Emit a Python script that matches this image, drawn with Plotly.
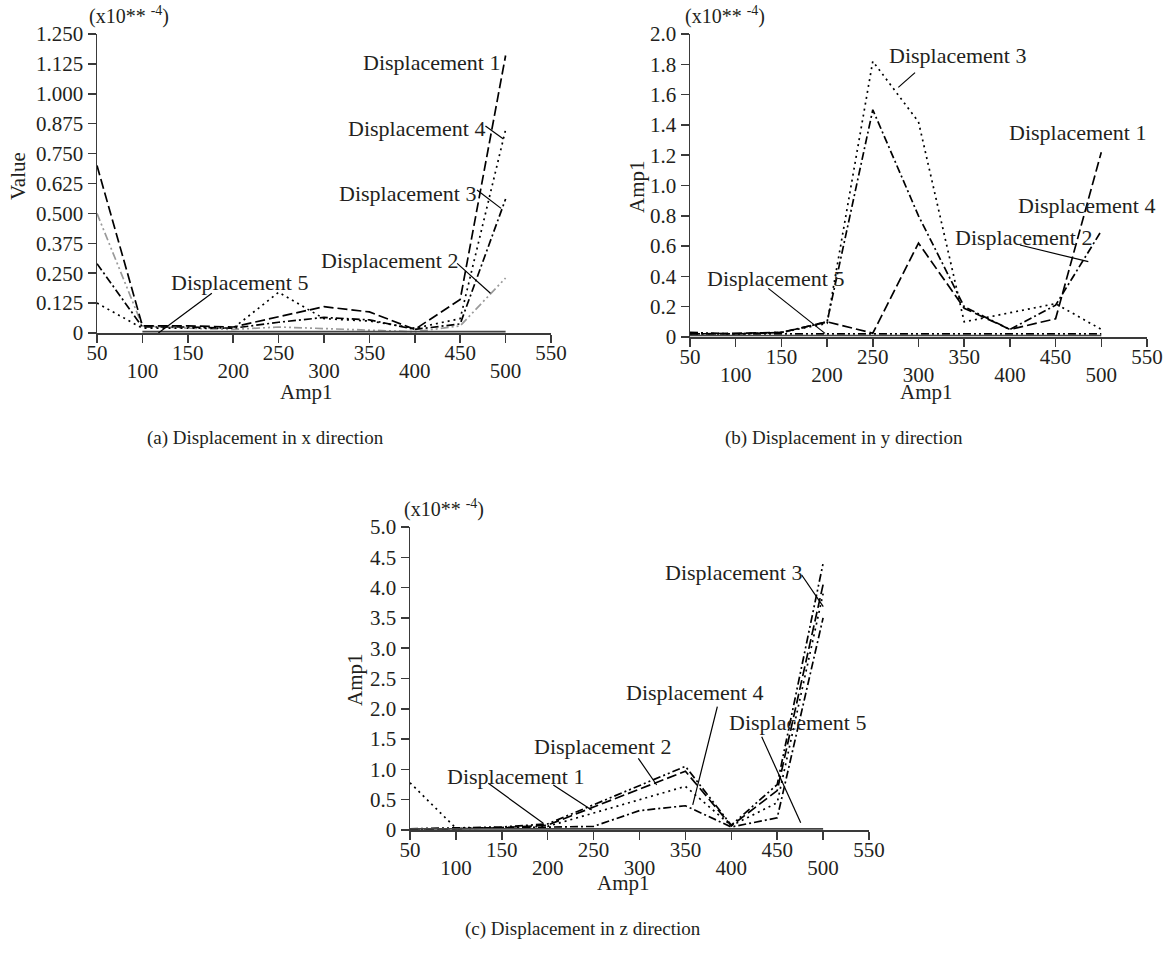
import plotly.graph_objects as go

W, H = 1169, 963
FONT = "Liberation Serif"
TXT = "#231f20"

# ---------------- data ----------------
amp = [50, 100, 150, 200, 250, 300, 350, 400, 450, 500]
amp_b5 = [100, 150, 200, 250, 300, 350, 400, 450, 500]
xtick_odd = [50, 150, 250, 350, 450, 550]
xtick_even = [100, 200, 300, 400, 500]

# (a) x direction, x10^-4
a_d1 = [0.700, 0.030, 0.030, 0.025, 0.068, 0.110, 0.088, 0.015, 0.140, 1.160]
a_d2 = [0.500, 0.030, 0.020, 0.015, 0.025, 0.020, 0.012, 0.005, 0.030, 0.230]
a_d3 = [0.290, 0.025, 0.025, 0.020, 0.045, 0.065, 0.055, 0.015, 0.038, 0.560]
a_d4 = [0.125, 0.020, 0.020, 0.020, 0.170, 0.060, 0.050, 0.020, 0.060, 0.850]
a_d5 = [0.006, 0.006, 0.006, 0.006, 0.006, 0.006, 0.006, 0.006, 0.006]
a_yticks = [0, 0.125, 0.25, 0.375, 0.5, 0.625, 0.75, 0.875, 1.0, 1.125, 1.25]
a_ytext = ["0", "0.125", "0.250", "0.375", "0.500", "0.625", "0.750", "0.875", "1.000", "1.125", "1.250"]

# (b) y direction
b_d1 = [0.020, 0.025, 0.030, 0.100, 0.025, 0.620, 0.190, 0.050, 0.120, 1.220]
b_d2 = [0.030, 0.020, 0.020, 0.020, 0.020, 0.020, 0.020, 0.020, 0.020, 0.020]
b_d3 = [0.020, 0.020, 0.030, 0.090, 1.820, 1.420, 0.100, 0.160, 0.220, 0.050]
b_d4 = [0.020, 0.020, 0.030, 0.100, 1.500, 0.800, 0.200, 0.050, 0.210, 0.700]
b_d5 = [0.010, 0.010, 0.010, 0.010, 0.010, 0.010, 0.010, 0.010, 0.010, 0.010]
b_yticks = [0, 0.2, 0.4, 0.6, 0.8, 1.0, 1.2, 1.4, 1.6, 1.8, 2.0]
b_ytext = ["0", "0.2", "0.4", "0.6", "0.8", "1.0", "1.2", "1.4", "1.6", "1.8", "2.0"]

# (c) z direction
c_d1 = [0.78, 0.03, 0.04, 0.06, 0.28, 0.50, 0.72, 0.07, 0.45, 3.90]
c_d2 = [0.02, 0.02, 0.04, 0.08, 0.38, 0.68, 0.97, 0.07, 0.65, 4.05]
c_d3 = [0.02, 0.03, 0.05, 0.10, 0.42, 0.74, 1.05, 0.08, 0.75, 4.40]
c_d4 = [0.01, 0.02, 0.03, 0.05, 0.06, 0.32, 0.40, 0.05, 0.20, 3.50]
c_d5 = [0.02, 0.02, 0.02, 0.02, 0.02, 0.02, 0.02, 0.02, 0.02, 0.02]
c_yticks = [0, 0.5, 1.0, 1.5, 2.0, 2.5, 3.0, 3.5, 4.0, 4.5, 5.0]
c_ytext = ["0", "0.5", "1.0", "1.5", "2.0", "2.5", "3.0", "3.5", "4.0", "4.5", "5.0"]

# ---------------- styles ----------------
LONG = "10px,4px"
DOT = "2px,4px"
DASHDOT = "8px,3px,2px,3px"
DDD = "8px,3px,2px,3px,2px,3px"
LW = 1.7

fig = go.Figure()

def add(x, y, xa, ya, dash, color="black", name=""):
    fig.add_trace(go.Scatter(x=x, y=y, xaxis=xa, yaxis=ya, mode="lines", name=name,
                             line=dict(color=color, width=LW, dash=dash),
                             showlegend=False, hoverinfo="skip"))

# (a)
add(amp_b5, a_d5, "x4", "y", "solid", "#444444", "Displacement 5")
add(amp, a_d2, "x", "y", DDD, "#9a9a9a", "Displacement 2")
add(amp, a_d3, "x", "y", DASHDOT, "black", "Displacement 3")
add(amp, a_d4, "x", "y", DOT, "black", "Displacement 4")
add(amp, a_d1, "x", "y", LONG, "black", "Displacement 1")
# (b)
add(amp, b_d5, "x5", "y2", "solid", "#444444", "Displacement 5")
add(amp, b_d2, "x2", "y2", DDD, "black", "Displacement 2")
add(amp, b_d4, "x2", "y2", DASHDOT, "black", "Displacement 4")
add(amp, b_d3, "x2", "y2", DOT, "black", "Displacement 3")
add(amp, b_d1, "x2", "y2", LONG, "black", "Displacement 1")
# (c)
add(amp, c_d5, "x6", "y3", "solid", "#444444", "Displacement 5")
add(amp, c_d4, "x3", "y3", DASHDOT, "black", "Displacement 4")
add(amp, c_d1, "x3", "y3", DOT, "black", "Displacement 1")
add(amp, c_d2, "x3", "y3", LONG, "black", "Displacement 2")
add(amp, c_d3, "x3", "y3", DDD, "black", "Displacement 3")

def xdom(left, right):
    return [left / W, right / W]

def ydom(top, bottom):
    return [1 - bottom / H, 1 - top / H]

TICK_SIZE = 21
tickfont = dict(family=FONT, size=TICK_SIZE, color=TXT)
AXC = "#3a3a3a"

def xmain(dom, anchor):
    return dict(domain=dom, anchor=anchor, range=[50, 550], tickmode="array",
                tickvals=xtick_odd + xtick_even,
                ticktext=[str(v) for v in xtick_odd] + [""] * len(xtick_even),
                ticks="outside", ticklen=8, tickwidth=1.5, tickcolor=AXC,
                showline=True, linecolor=AXC, linewidth=1.5, showgrid=False,
                zeroline=False, tickfont=tickfont, fixedrange=True,
                automargin=False, ticklabelstandoff=-8)

def xover(over, anchor):
    return dict(overlaying=over, anchor=anchor, range=[50, 550], tickmode="array",
                tickvals=xtick_even, ticktext=[str(v) for v in xtick_even],
                ticks="", showline=False, showgrid=False, zeroline=False,
                tickfont=tickfont, ticklabelstandoff=23, side="bottom",
                automargin=False)

def yax(dom, anchor, rng, tv, tt):
    return dict(domain=dom, anchor=anchor, range=rng, tickmode="array",
                tickvals=tv, ticktext=tt, ticks="outside", ticklen=8,
                tickwidth=1.5, tickcolor=AXC, showline=True, linecolor=AXC,
                linewidth=1.5, showgrid=False, zeroline=False, tickfont=tickfont,
                automargin=False)

fig.update_layout(
    width=W, height=H, margin=dict(l=0, r=0, t=0, b=0, pad=0, autoexpand=False),
    paper_bgcolor="white", plot_bgcolor="white",
    font=dict(family=FONT, color=TXT, size=20),
    xaxis=xmain(xdom(97, 551), "y"),
    yaxis=yax(ydom(34, 333), "x", [0, 1.25], a_yticks, a_ytext),
    xaxis2=xmain(xdom(690, 1147), "y2"),
    yaxis2=yax(ydom(34, 337), "x2", [0, 2.0], b_yticks, b_ytext),
    xaxis3=xmain(xdom(410, 869), "y3"),
    yaxis3=yax(ydom(527, 830), "x3", [0, 5.0], c_yticks, c_ytext),
    xaxis4=xover("x", "y"), xaxis5=xover("x2", "y2"), xaxis6=xover("x3", "y3"),
)

ann = []
shapes = []
LBL = 22

def label(text, x, y, xr, yr, size=LBL):
    ann.append(dict(text=text, x=x, y=y, xref=xr, yref=yr, showarrow=False,
                    font=dict(family=FONT, size=size, color=TXT),
                    xanchor="center", yanchor="middle"))

def leader(x0, y0, x1, y1, xr, yr):
    shapes.append(dict(type="line", x0=x0, y0=y0, x1=x1, y1=y1, xref=xr, yref=yr,
                       line=dict(color="black", width=1.2)))

# (a) labels
label("Displacement 1", 418.8, 1.129, "x", "y")
label("Displacement 4", 401.7, 0.857, "x", "y")
leader(477.8, 0.865, 497.6, 0.811, "x", "y")
label("Displacement 3", 392.5, 0.585, "x", "y")
leader(468.5, 0.598, 495.0, 0.521, "x", "y")
label("Displacement 2", 372.0, 0.305, "x", "y")
leader(446.6, 0.291, 483.3, 0.166, "x", "y")
label("Displacement 5", 206.6, 0.213, "x", "y")
leader(176.5, 0.166, 117.6, 0.0, "x", "y")

# (b) labels
label("Displacement 3", 342.7, 1.861, "x2", "y2")
leader(296.2, 1.745, 277.9, 1.648, "x2", "y2")
label("Displacement 1", 474.0, 1.353, "x2", "y2")
label("Displacement 4", 483.3, 0.871, "x2", "y2")
label("Displacement 2", 415.4, 0.660, "x2", "y2")
leader(411.0, 0.607, 485.8, 0.497, "x2", "y2")
label("Displacement 5", 143.5, 0.389, "x2", "y2")
leader(135.7, 0.321, 197.7, 0.024, "x2", "y2")

# (c) labels
label("Displacement 3", 401.9, 4.257, "x3", "y3")
leader(476.7, 4.208, 500.2, 3.685, "x3", "y3")
label("Displacement 4", 359.4, 2.277, "x3", "y3")
leader(384.8, 2.035, 358.0, 0.413, "x3", "y3")
label("Displacement 5", 472.1, 1.766, "x3", "y3")
leader(433.1, 1.540, 475.6, 0.120, "x3", "y3")
label("Displacement 2", 259.2, 1.370, "x3", "y3")
leader(298.7, 1.183, 318.7, 0.743, "x3", "y3")
label("Displacement 1", 164.4, 0.875, "x3", "y3")
leader(135.3, 0.770, 195.2, 0.110, "x3", "y3")
leader(206.1, 0.743, 247.9, 0.330, "x3", "y3")

# axis titles, multipliers, captions (paper coords from pixels)
def ptext(text, px, py, size=20, angle=0):
    ann.append(dict(text=text, x=px / W, y=1 - py / H,
                    xref="paper", yref="paper", showarrow=False, textangle=angle,
                    font=dict(family=FONT, size=size, color=TXT),
                    xanchor="center", yanchor="middle"))

ptext("(x10** <sup>-4</sup>)", 129, 15, 20)
ptext("(x10** <sup>-4</sup>)", 725, 15, 20)
ptext("(x10** <sup>-4</sup>)", 444, 508, 20)
ptext("Value", 18, 176, 21, -90)
ptext("Amp1", 637, 187, 21, -90)
ptext("Amp1", 355, 680, 21, -90)
ptext("Amp1", 306, 392, 21)
ptext("Amp1", 926, 392, 21)
ptext("Amp1", 623, 883, 21)
ptext("(a) Displacement in x direction", 265.5, 438, 19)
ptext("(b) Displacement in y direction", 844.5, 438, 19)
ptext("(c) Displacement in z direction", 583, 929, 19)

fig.update_layout(annotations=ann, shapes=shapes)
fig.write_html("out.html", config={"displayModeBar": False, "staticPlot": True},
               post_script="document.body.style.margin='0';document.body.style.padding='0';")
